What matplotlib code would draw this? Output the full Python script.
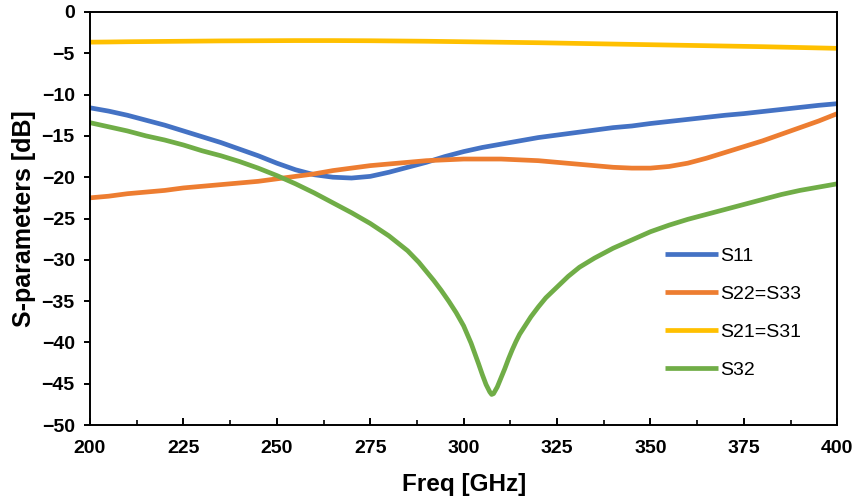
import matplotlib
matplotlib.use("Agg")
import matplotlib.pyplot as plt
from matplotlib.ticker import MultipleLocator

# Shared frequency grid (GHz) for S11, S22=S33 and S21=S31
freq_ghz = [200, 205, 210, 215, 220, 225, 230, 235, 240, 245,
            250, 255, 260, 265, 270, 275, 280, 285, 290, 295,
            300, 305, 310, 315, 320, 325, 330, 335, 340, 345,
            350, 355, 360, 365, 370, 375, 380, 385, 390, 395, 400]

s11_db = [-11.6, -12.0, -12.5, -13.1, -13.7, -14.4, -15.1, -15.8, -16.6, -17.4,
          -18.3, -19.1, -19.7, -20.0, -20.1, -19.9, -19.4, -18.8, -18.2, -17.5,
          -16.9, -16.4, -16.0, -15.6, -15.2, -14.9, -14.6, -14.3, -14.0, -13.8,
          -13.5, -13.25, -13.0, -12.75, -12.5, -12.3, -12.05, -11.8, -11.55, -11.3, -11.1]

s22_db = [-22.5, -22.3, -22.0, -21.8, -21.6, -21.3, -21.1, -20.9, -20.7, -20.5,
          -20.2, -19.9, -19.6, -19.2, -18.9, -18.6, -18.4, -18.2, -18.0, -17.9,
          -17.8, -17.8, -17.8, -17.9, -18.0, -18.2, -18.4, -18.6, -18.8, -18.9,
          -18.9, -18.7, -18.3, -17.7, -17.0, -16.3, -15.6, -14.8, -14.0, -13.2, -12.3]

s21_db = [-3.65, -3.63, -3.60, -3.58, -3.56, -3.54, -3.52, -3.50, -3.49, -3.48,
          -3.47, -3.46, -3.46, -3.46, -3.47, -3.48, -3.50, -3.52, -3.54, -3.57,
          -3.60, -3.63, -3.66, -3.69, -3.72, -3.76, -3.80, -3.84, -3.88, -3.92,
          -3.96, -4.00, -4.04, -4.08, -4.12, -4.16, -4.20, -4.25, -4.30, -4.35, -4.40]

# S32 is sampled more finely around the isolation notch
freq_s32_ghz = [200, 205, 210, 215, 220, 225, 230, 235, 240, 245,
                250, 255, 260, 265, 270, 275, 280, 285, 288, 290,
                292, 294, 296, 298, 300, 302, 304, 305, 306, 307,
                307.5, 308, 309, 310, 311, 312, 313, 314, 315, 316,
                318, 320, 322, 325, 328, 331, 335, 340, 345, 350,
                355, 360, 365, 370, 375, 380, 385, 390, 395, 400]

s32_db = [-13.4, -13.9, -14.4, -15.0, -15.5, -16.1, -16.8, -17.4, -18.1, -18.9,
          -19.8, -20.8, -21.9, -23.1, -24.3, -25.6, -27.1, -28.9, -30.3, -31.4,
          -32.5, -33.7, -35.0, -36.4, -38.0, -40.1, -42.6, -43.9, -45.1, -46.0,
          -46.3, -46.2, -45.4, -44.3, -43.2, -42.0, -40.9, -39.9, -39.0, -38.3,
          -36.9, -35.7, -34.6, -33.3, -32.0, -30.9, -29.8, -28.6, -27.6, -26.6,
          -25.8, -25.1, -24.5, -23.9, -23.3, -22.7, -22.1, -21.6, -21.2, -20.8]

plt.rcParams["font.family"] = ["Liberation Sans", "DejaVu Sans"]

fig = plt.figure(figsize=(8.57, 5.0), dpi=100)
ax = fig.add_axes([0.105, 0.15, 0.872, 0.826])

line_kw = dict(lw=3.4, solid_joinstyle="round", solid_capstyle="butt")
ax.plot(freq_ghz, s11_db, color="#4472C4", label="S11", **line_kw)
ax.plot(freq_ghz, s22_db, color="#ED7D31", label="S22=S33", **line_kw)
ax.plot(freq_ghz, s21_db, color="#FFC000", label="S21=S31", **line_kw)
ax.plot(freq_s32_ghz, s32_db, color="#70AD47", label="S32", **line_kw)

ax.set_xlim(200, 400)
ax.set_ylim(-50, 0)
ax.xaxis.set_major_locator(MultipleLocator(25))
ax.xaxis.set_minor_locator(MultipleLocator(12.5))
ax.yaxis.set_major_locator(MultipleLocator(5))

for sp in ax.spines.values():
    sp.set_linewidth(1.4)

ax.tick_params(axis="x", which="major", direction="in", length=5, width=1.4,
               pad=11, labelsize=14)
ax.tick_params(axis="x", which="minor", direction="in", length=3.5, width=1.2)
ax.tick_params(axis="y", which="major", direction="out", length=4, width=1.4,
               pad=7, labelsize=14)
for lbl in ax.get_xticklabels() + ax.get_yticklabels():
    lbl.set_fontweight("bold")

ax.set_xlabel("Freq [GHz]", fontsize=17.5, fontweight="bold", labelpad=11)
ax.set_ylabel("S-parameters [dB]", fontsize=18, fontweight="bold", labelpad=4)

ax.legend(loc="upper left", bbox_to_anchor=(0.77, 0.43), frameon=False,
          fontsize=14, handlelength=2.68, handletextpad=0.15,
          labelspacing=1.05, borderpad=0, borderaxespad=0)

fig.savefig("out.png", dpi=100)
